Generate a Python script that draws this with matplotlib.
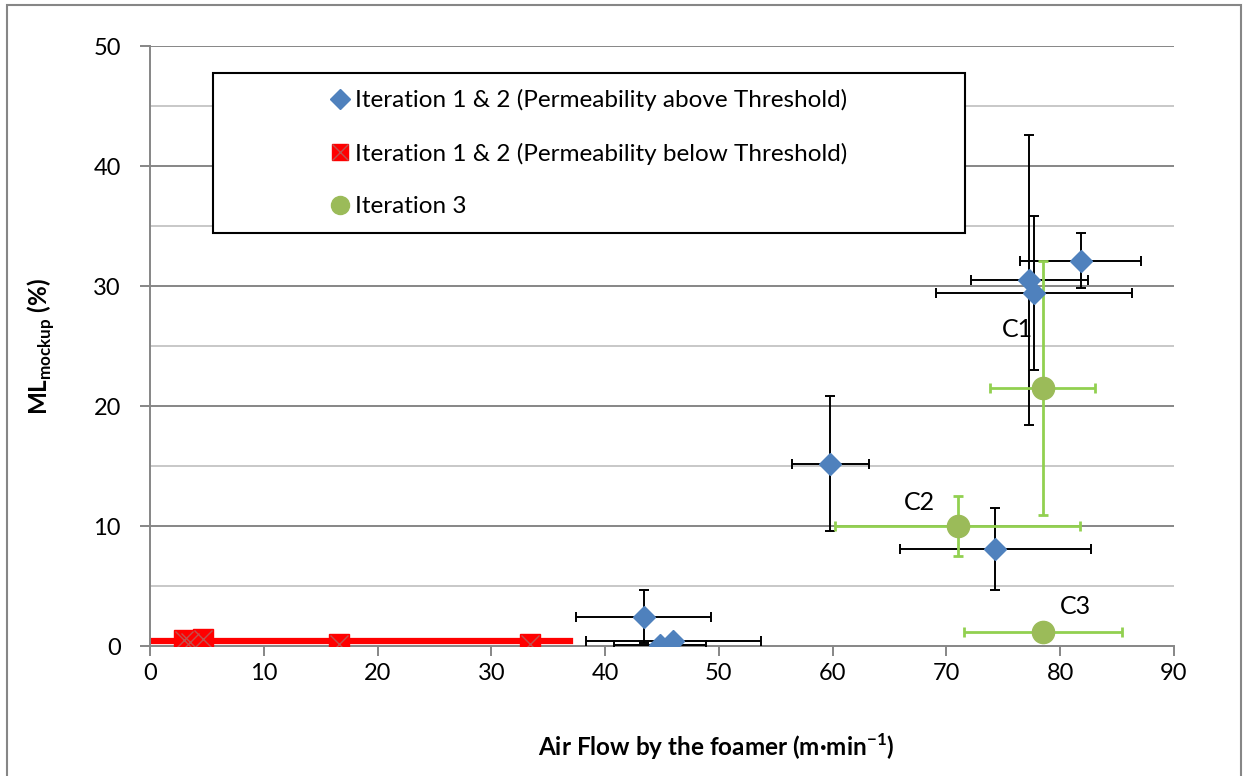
import matplotlib.pyplot as plt
from matplotlib.lines import Line2D
from matplotlib.patches import Rectangle

plt.rcParams['font.family'] = ['Lato', 'DejaVu Sans']
plt.rcParams['mathtext.fontset'] = 'custom'
plt.rcParams['mathtext.rm'] = 'Lato'
plt.rcParams['mathtext.bf'] = 'Lato:bold'

# Iteration 1 & 2, permeability above threshold (blue diamonds)
above_x = [81.8, 77.3, 77.7, 59.8, 74.3, 43.4, 44.8, 46.0]
above_y = [32.1, 30.5, 29.4, 15.2, 8.1, 2.45, 0.1, 0.4]
above_xerr = [5.3, 5.15, 8.6, 3.4, 8.4, 5.95, 4.05, 7.7]
above_yerr = [2.3, 12.1, 6.4, 5.6, 3.4, 2.2, 0.0, 0.0]

# Iteration 1 & 2, permeability below threshold (red squares)
below_x = [3.0, 3.5, 4.7, 16.6, 33.4]
below_y = [0.5, 0.3, 0.6, 0.17, 0.17]
threshold_line_x = [0.2, 36.9]
threshold_line_y = [0.45, 0.45]

# Iteration 3 (green circles)
it3_x = [78.45, 71.0, 78.5]
it3_y = [21.5, 10.0, 1.2]
it3_xerr = [4.65, 10.75, 6.95]
it3_yerr = [10.6, 2.5, 0.0]
it3_labels = ['C1', 'C2', 'C3']
label_offsets = [(-2.2, 4.9), (-3.4, 2.0), (2.8, 2.1)]

blue = '#4F81BD'
red = '#FF0000'
green = '#9BBB59'
green_bar = '#92D050'

fig = plt.figure(figsize=(12.44, 7.76), dpi=100)
ax = fig.add_axes([0.1206, 0.1675, 0.8231, 0.7732])

# outer chart border
fig.patches.append(Rectangle((7 / 1244, -0.01), 1234 / 1244, 1 - 5 / 776 + 0.01,
                             transform=fig.transFigure, fill=False,
                             edgecolor='#868686', linewidth=1.5))

# gridlines
for yv in range(5, 55, 5):
    ax.axhline(yv, color='#868686' if yv % 10 == 0 else '#C8C8C8',
               linewidth=1.4, zorder=0)

ax.plot(threshold_line_x, threshold_line_y, color=red, linewidth=4.5, zorder=2)

ax.errorbar(above_x, above_y, xerr=above_xerr, yerr=above_yerr, fmt='none',
            ecolor='black', elinewidth=1.4, capsize=3.6, capthick=1.4, zorder=3)
ax.errorbar(it3_x, it3_y, xerr=it3_xerr, yerr=it3_yerr, fmt='none',
            ecolor=green_bar, elinewidth=2.0, capsize=3.6, capthick=2.0, zorder=3)

ax.plot(below_x, below_y, linestyle='none', marker='s', markersize=14,
        color=red, zorder=4)
ax.plot(below_x, below_y, linestyle='none', marker='x', markersize=13,
        markeredgecolor='#C0504D', markeredgewidth=1.0, zorder=5)
ax.plot(above_x, above_y, linestyle='none', marker='D', markersize=11,
        color=blue, zorder=5)
ax.plot(it3_x, it3_y, linestyle='none', marker='o', markersize=16,
        color=green, zorder=6)

for lx, ly, lab, (dx, dy) in zip(it3_x, it3_y, it3_labels, label_offsets):
    ax.text(lx + dx, ly + dy, lab, fontsize=18, ha='center', va='center')

ax.set_xlim(0, 90)
ax.set_ylim(0, 50)
ax.set_xticks(range(0, 100, 10))
ax.set_yticks(range(0, 60, 10))
ax.tick_params(axis='both', labelsize=17, color='#868686', length=7,
               width=1.4, direction='out')
ax.tick_params(axis='x', pad=5)
ax.tick_params(axis='y', pad=14)
for side in ['top', 'right']:
    ax.spines[side].set_visible(False)
for side in ['left', 'bottom']:
    ax.spines[side].set_color('#868686')
    ax.spines[side].set_linewidth(1.4)

ax.set_xlabel(r'Air Flow by the foamer (m·min$^{\mathbf{-1}}$)',
              fontsize=17.5, fontweight='bold')
ax.xaxis.set_label_coords(0.553, -0.143)
ax.set_ylabel(r'ML$_{\mathbf{mockup}}$ (%)', fontsize=17.5,
              fontweight='bold', labelpad=26)

# legend box
box_l, box_r, box_b, box_t = 0.0615, 0.796, 0.688, 0.955
ax.add_patch(Rectangle((box_l, box_b), box_r - box_l, box_t - box_b,
                       transform=ax.transAxes, facecolor='white',
                       edgecolor='black', linewidth=1.5, zorder=7))
sq = Line2D([], [], linestyle='none', marker='s', markersize=12, color=red)
sq_x = Line2D([], [], linestyle='none', marker='x', markersize=11,
              markeredgecolor='#C0504D', markeredgewidth=1.0)
handles = [
    Line2D([], [], linestyle='none', marker='D', markersize=10, color=blue),
    (sq, sq_x),
    Line2D([], [], linestyle='none', marker='o', markersize=13, color=green),
]
labels = ['Iteration 1 & 2 (Permeability above Threshold)',
          'Iteration 1 & 2 (Permeability below Threshold)',
          'Iteration 3']
leg = ax.legend(handles, labels, loc='center',
                bbox_to_anchor=((box_l + box_r) / 2, (box_b + box_t) / 2),
                frameon=False, fontsize=17.5, handlelength=0.8,
                handletextpad=0.2, labelspacing=1.3)
leg.set_zorder(8)

fig.savefig('out.png', dpi=100)
